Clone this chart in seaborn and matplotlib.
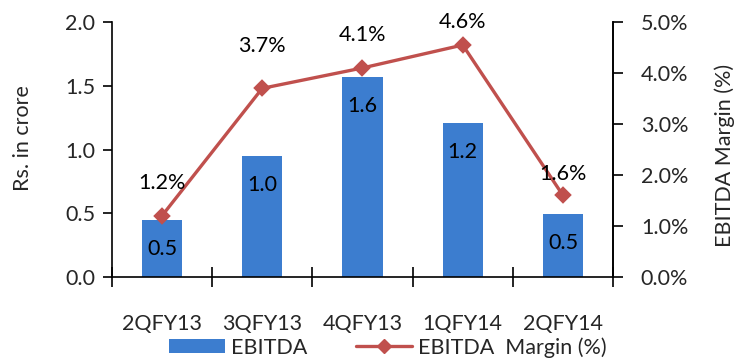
import matplotlib
matplotlib.use("Agg")
import matplotlib.pyplot as plt
import seaborn as sns
import pandas as pd
from matplotlib.lines import Line2D
from matplotlib.patches import Patch
from matplotlib.ticker import FuncFormatter

quarters = ["2QFY13", "3QFY13", "4QFY13", "1QFY14", "2QFY14"]
ebitda = [0.45, 0.95, 1.57, 1.21, 0.49]
ebitda_labels = ["0.5", "1.0", "1.6", "1.2", "0.5"]
margin = [1.2, 3.7, 4.1, 4.55, 1.6]
margin_labels = ["1.2%", "3.7%", "4.1%", "4.6%", "1.6%"]

sns.set_theme(style="white")
plt.rcParams["font.family"] = ["Lato", "DejaVu Sans"]
FS = 15.5

BLUE = "#3C7DCF"
RED = "#C0504D"

df = pd.DataFrame({"q": quarters, "ebitda": ebitda, "margin": margin})

fig = plt.figure(figsize=(7.36, 3.62), dpi=100)
ax = fig.add_axes([0.152, 0.235, 0.681, 0.704])
sns.barplot(data=df, x="q", y="ebitda", color=BLUE, width=0.4, ax=ax,
            saturation=1, edgecolor="none")
ax.set_ylim(0, 2.0)
ax.set_xlim(-0.5, 4.5)
ax.set_yticks([0, 0.5, 1.0, 1.5, 2.0])
ax.yaxis.set_major_formatter(FuncFormatter(lambda v, p: f"{v:.1f}"))
ax.set_xlabel("")
ax.set_ylabel("Rs. in crore", fontsize=FS)
ax.yaxis.set_label_coords(-0.158, 0.545)
ax.tick_params(axis="y", labelsize=FS, direction="out", length=6.5, width=1.2, left=True, color="black", pad=5.5)
ax.set_xticks(range(len(quarters)))
ax.set_xticklabels(quarters, fontsize=FS)
ax.tick_params(axis="x", length=0, pad=27)
ax.set_xticks([i - 0.5 for i in range(len(quarters) + 1)], minor=True)
ax.tick_params(axis="x", which="minor", direction="inout", length=14, width=1.2, bottom=True, color="black")
for s in ["left", "bottom", "right"]:
    ax.spines[s].set_color("black")
    ax.spines[s].set_linewidth(1.2)
ax.spines["top"].set_visible(False)

for i, c in enumerate(ax.containers[0]):
    ax.annotate(ebitda_labels[i], (c.get_x() + c.get_width() / 2, c.get_height()),
                xytext=(0, -29), textcoords="offset pixels", ha="center", va="center",
                fontsize=FS, color="black")

ax2 = ax.twinx()
sns.pointplot(data=df, x="q", y="margin", color=RED, markers="D", ax=ax2,
              linewidth=2.4, markersize=7, errorbar=None)
ax2.set_ylim(0, 5.0)
ax2.set_xlim(-0.5, 4.5)
ax2.set_yticks([0, 1, 2, 3, 4, 5])
ax2.yaxis.set_major_formatter(FuncFormatter(lambda v, p: f"{v:.1f}%"))
ax2.tick_params(axis="y", labelsize=FS, direction="out", length=7, width=1.2, right=True, color="black", pad=13)
ax2.set_ylabel("EBITDA Margin (%)", fontsize=FS)
ax2.yaxis.set_label_coords(1.202, 0.475)
ax2.set_xlabel("")
for s in ["top", "left", "bottom"]:
    ax2.spines[s].set_visible(False)
ax2.spines["right"].set_color("black")
ax2.spines["right"].set_linewidth(1.2)

offsets = [33, 42, 33, 23, 21]
for i, (v, lab) in enumerate(zip(margin, margin_labels)):
    ax2.annotate(lab, (i, v), xytext=(0, offsets[i]), textcoords="offset pixels",
                 ha="center", va="center", fontsize=FS, color="black")

handles = [Patch(facecolor=BLUE, edgecolor="none"),
           Line2D([0], [0], color=RED, lw=2.4, marker="D", markersize=7)]
fig.legend(handles, ["EBITDA", "EBITDA  Margin (%)"], loc="center",
           bbox_to_anchor=(0.527, 0.04), ncol=2, frameon=False, fontsize=FS,
           handlelength=2.6, handleheight=0.65, columnspacing=2.25, handletextpad=0.3,
           borderaxespad=0, borderpad=0)

fig.savefig("out.png", dpi=100)
